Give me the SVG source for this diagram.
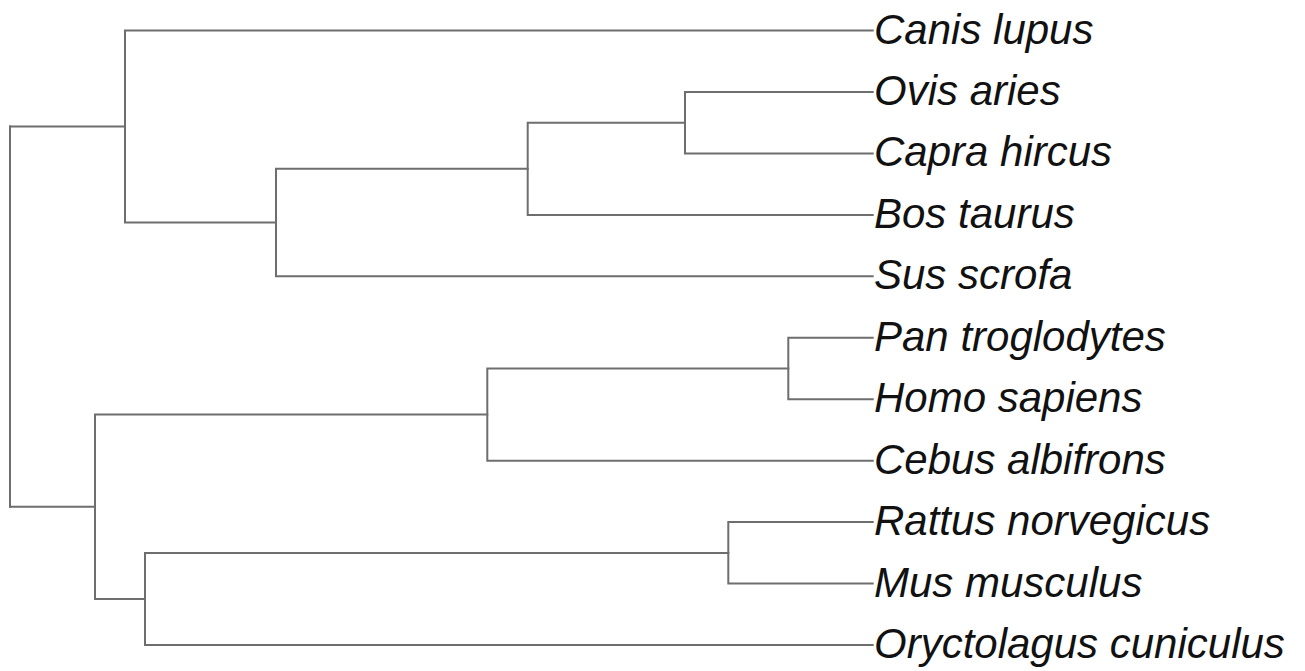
<svg xmlns="http://www.w3.org/2000/svg" width="1305" height="671" viewBox="0 0 1305 671">
<style>
.e{fill:none;stroke:#6e6e6e;stroke-width:2;stroke-linecap:square;stroke-linejoin:miter}
.t{font-family:"Liberation Sans",Arial,sans-serif;font-style:italic;font-size:42px;fill:#111}
</style>
<rect width="1305" height="671" fill="#fff"/>
<g id="connectors">
<path class="e" d="M10,126.5V506.8"/>
<path class="e" d="M10,126.5H125M125,30.5V222.5M125,30.5H872.7M125,222.5H276"/>
<path class="e" d="M276,168.8V276.3M276,168.8H527.7M276,276.3H872.7"/>
<path class="e" d="M527.7,122.7V214.9M527.7,122.7H685M527.7,214.9H872.7"/>
<path class="e" d="M685,92V153.4M685,92H872.7M685,153.4H872.7"/>
<path class="e" d="M10,506.8H95M95,414.6V599M95,414.6H487.3M95,599H145"/>
<path class="e" d="M487.3,368.5V460.7M487.3,368.5H788.3M487.3,460.7H872.7"/>
<path class="e" d="M788.3,337.8V399.2M788.3,337.8H872.7M788.3,399.2H872.7"/>
<path class="e" d="M145,552.9V645M145,552.9H728.3M145,645H872.7"/>
<path class="e" d="M728.3,522.1V583.6M728.3,522.1H872.7M728.3,583.6H872.7"/>
</g>
<g id="leaf-canis"><text class="t" x="874" y="43.5">Canis lupus</text></g>
<g id="leaf-ovis"><text class="t" x="874" y="105">Ovis aries</text></g>
<g id="leaf-capra"><text class="t" x="874" y="166.4">Capra hircus</text></g>
<g id="leaf-bos"><text class="t" x="874" y="227.9">Bos taurus</text></g>
<g id="leaf-sus"><text class="t" x="874" y="289.3">Sus scrofa</text></g>
<g id="leaf-pan"><text class="t" x="874" y="350.8">Pan troglodytes</text></g>
<g id="leaf-homo"><text class="t" x="874" y="412.2">Homo sapiens</text></g>
<g id="leaf-cebus"><text class="t" x="874" y="473.7">Cebus albifrons</text></g>
<g id="leaf-rattus"><text class="t" x="874" y="535.1">Rattus norvegicus</text></g>
<g id="leaf-mus"><text class="t" x="874" y="596.6">Mus musculus</text></g>
<g id="leaf-oryctolagus"><text class="t" x="874" y="658">Oryctolagus cuniculus</text></g>
</svg>
